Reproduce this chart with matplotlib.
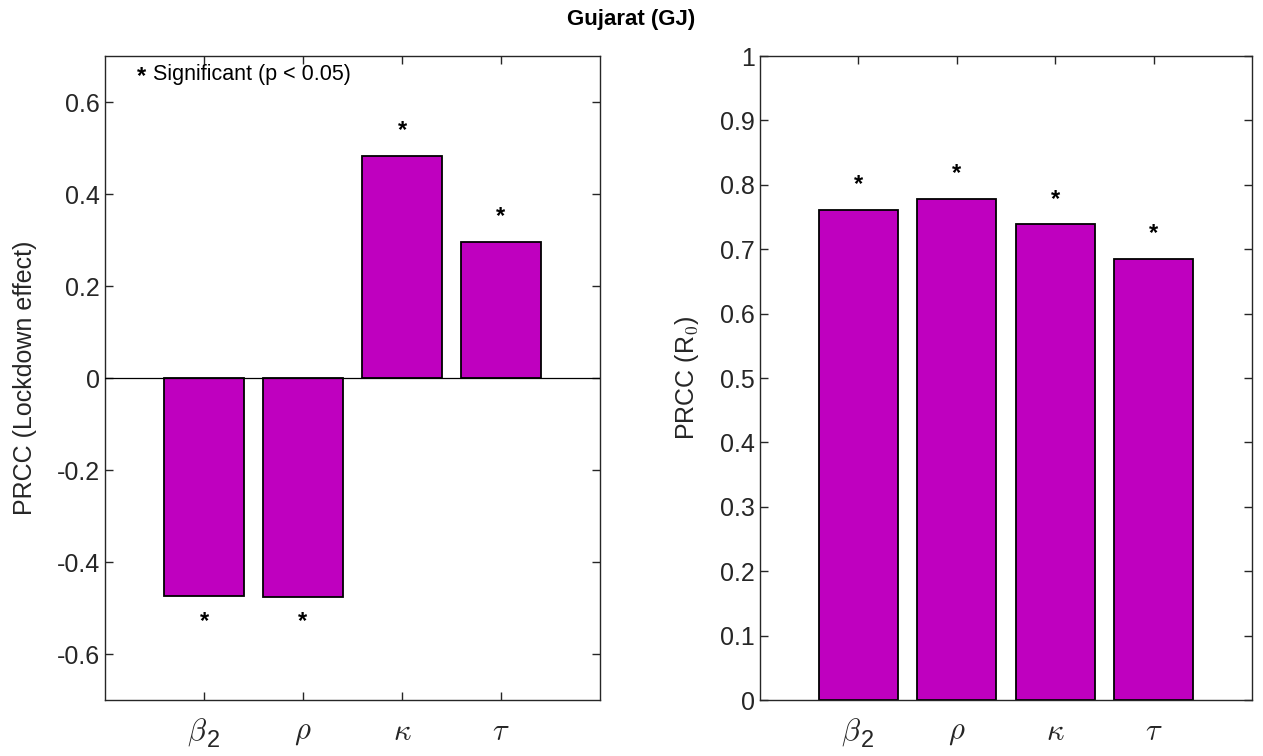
import matplotlib
matplotlib.use("Agg")
import matplotlib.pyplot as plt
import matplotlib.transforms as mtransforms
import numpy as np

plt.rcParams['font.family'] = ['Liberation Sans', 'DejaVu Sans']
plt.rcParams['mathtext.fontset'] = 'cm'

# ---- data ----
param_symbols = [r'\beta', r'\rho', r'\kappa', r'\tau']
param_subscripts = ['2', '', '', '']
prcc_lockdown = [-0.474, -0.476, 0.483, 0.296]
prcc_r0 = [0.761, 0.778, 0.739, 0.685]
sig_lockdown = [True, True, True, True]
sig_r0 = [True, True, True, True]
left_yticks = [-0.6, -0.4, -0.2, 0, 0.2, 0.4, 0.6]
left_yticklabels = ['-0.6', '-0.4', '-0.2', '0', '0.2', '0.4', '0.6']
right_yticks = [0, 0.1, 0.2, 0.3, 0.4, 0.5, 0.6, 0.7, 0.8, 0.9, 1.0]
right_yticklabels = ['0', '0.1', '0.2', '0.3', '0.4', '0.5', '0.6', '0.7', '0.8', '0.9', '1']
title = 'Gujarat (GJ)'
legend_star = '*'
legend_text = 'Significant (p < 0.05)'

BAR = '#BF00BF'
SPINE = '#262626'
W, H = 1263, 756
fig = plt.figure(figsize=(W / 100, H / 100), dpi=100)

ax1 = fig.add_axes([105 / W, (H - 700) / H, 495 / W, 644 / H])
ax2 = fig.add_axes([760 / W, (H - 700) / H, 492 / W, 644 / H])

x = np.arange(1, len(param_symbols) + 1)


def style(ax):
    for s in ax.spines.values():
        s.set_color(SPINE)
        s.set_linewidth(1.0)
    ax.tick_params(direction='in', length=6, width=1.0, color=SPINE,
                   top=True, right=True, labelsize=18, labelcolor=SPINE)
    ax.tick_params(axis='x', pad=12, labelsize=22, labelcolor=SPINE)
    ax.set_xlim(0, 5)
    ax.set_xticks(x)
    ax.set_xticklabels(['$%s$' % s for s in param_symbols])
    # subscripts drawn as upright sans text next to the symbol
    for lab, xi, sub in zip(ax.get_xticklabels(), x, param_subscripts):
        if sub:
            lab.set_transform(lab.get_transform() +
                              mtransforms.ScaledTranslation(-5 / 72, 0, fig.dpi_scale_trans))
            ax.annotate(sub, xy=(xi, 0), xycoords=('data', 'axes fraction'),
                        xytext=(2, -29.5), textcoords='offset points',
                        ha='left', va='center', fontsize=17, color=SPINE,
                        annotation_clip=False)


# left
ax1.bar(x, prcc_lockdown, width=0.8, color=BAR, edgecolor='black', linewidth=1.3, zorder=2)
ax1.axhline(0, color='black', linewidth=0.9, zorder=3)
style(ax1)
ax1.set_ylim(-0.7, 0.7)
ax1.set_yticks(left_yticks)
ax1.set_yticklabels(left_yticklabels)
ax1.set_ylabel('PRCC (Lockdown effect)', fontsize=18, color=SPINE, labelpad=14)
for xi, v, s in zip(x, prcc_lockdown, sig_lockdown):
    if s:
        off = 18 if v > 0 else -18
        ax1.annotate('*', xy=(xi, v), xytext=(0, off), textcoords='offset points',
                     ha='center', va='center', fontsize=17, fontweight='bold')
ax1.text(0.32, 0.655, legend_star, fontsize=17, fontweight='bold', ha='left', va='center')
ax1.text(0.48, 0.659, legend_text, fontsize=15.5, ha='left', va='center')

# right
ax2.bar(x, prcc_r0, width=0.8, color=BAR, edgecolor='black', linewidth=1.3, zorder=2)
style(ax2)
ax2.set_ylim(0, 1)
ax2.set_yticks(right_yticks)
ax2.set_yticklabels(right_yticklabels)
ax2.set_ylabel(r'PRCC (R$_\mathsf{0}$)', fontsize=18, color=SPINE, labelpad=14)
for xi, v, s in zip(x, prcc_r0, sig_r0):
    if s:
        ax2.annotate('*', xy=(xi, v), xytext=(0, 18), textcoords='offset points',
                     ha='center', va='center', fontsize=17, fontweight='bold')

fig.text(0.5, 1 - 20 / H, title, ha='center', va='center', fontsize=16, fontweight='bold')

fig.savefig('out.png', dpi=100)
